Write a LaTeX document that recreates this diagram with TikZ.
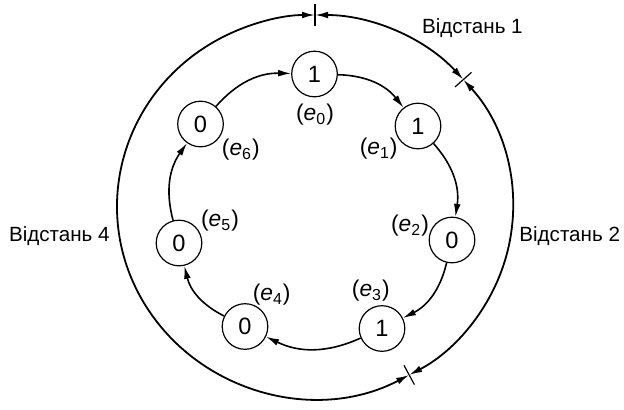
\documentclass[tikz,border=0pt]{standalone}
\usepackage{fontspec}
\setmainfont{Liberation Sans}
\usetikzlibrary{arrows.meta, calc}

\begin{document}
\begin{tikzpicture}[x=0.5pt, y=0.5pt,
  font=\fontsize{10.3}{12}\selectfont,
  bit/.style={draw, circle, line width=0.6pt, minimum size=22.8pt, inner sep=0pt, font=\fontsize{11.8}{13}\selectfont},
  bitlabel/.style={font=\fontsize{11.4}{13}\selectfont, inner sep=0pt},
  link/.style={line width=0.8pt, -{Latex[length=6.5pt, width=3.4pt]}},
  dist/.style={line width=0.9pt, {Latex[length=6.5pt, width=3.4pt]}-{Latex[length=6.5pt, width=3.4pt]}}]
\useasboundingbox (0,0) rectangle (624,409);

% bits of the code word
\node[bit] (e0) at (314.5,335) {1};
\node[bit] (e1) at (418,283) {1};
\node[bit] (e2) at (452,169) {0};
\node[bit] (e3) at (382,80.5) {1};
\node[bit] (e4) at (245,82.5) {0};
\node[bit] (e5) at (179,166) {0};
\node[bit] (e6) at (200.5,285) {0};

% positions
\node[bitlabel] (l0) at (315,294) {(\textit{e}\textsubscript{0})};
\node[bitlabel] (l1) at (378.7,260) {(\textit{e}\textsubscript{1})};
\node[bitlabel] (l2) at (410,183) {(\textit{e}\textsubscript{2})};
\node[bitlabel] (l3) at (370.8,118) {(\textit{e}\textsubscript{3})};
\node[bitlabel] (l4) at (271.7,114) {(\textit{e}\textsubscript{4})};
\node[bitlabel] (l5) at (220,188) {(\textit{e}\textsubscript{5})};
\node[bitlabel] (l6) at (240.8,259) {(\textit{e}\textsubscript{6})};

\draw[link] (e0) to[bend left=25] (e1);
\draw[link] (e1) to[bend left=25] (e2);
\draw[link] (e2) to[bend left=25] (e3);
\draw[link] (e3) to[bend left=25] (e4);
\draw[link] (e4) to[bend left=25] (e5);
\draw[link] (e5) to[bend left=25] (e6);
\draw[link] (e6) to[bend left=25] (e0);

% outer ring with distances
\coordinate (oc) at (315,202.5);
\coordinate (t1) at ($(oc)+(90:198 and 191.5)$);
\coordinate (t2) at ($(oc)+(41.5:198 and 191.5)$);
\coordinate (t3) at ($(oc)+(-61.6:198 and 191.5)$);
\draw[dist] (t1) arc[start angle=90, end angle=41.5, x radius=198, y radius=191.5];
\draw[dist] (t2) arc[start angle=41.5, end angle=-61.6, x radius=198, y radius=191.5];
\draw[dist] (t3) arc[start angle=-61.6, end angle=-270, x radius=198, y radius=191.5];
\foreach \a in {90,41.5,-61.6}
  \draw[line width=0.6pt] ($(oc)+(\a:187 and 180.5)$) -- ($(oc)+(\a:209 and 202.5)$);

\node[anchor=base west, inner sep=0pt] (d1) at (421.7,375.7) {Відстань 1};
\node[anchor=base west, inner sep=0pt] (d2) at (519,167.3) {Відстань 2};
\node[anchor=base east, inner sep=0pt] (d4) at (110,167.3) {Відстань 4};
\end{tikzpicture}
\end{document}
